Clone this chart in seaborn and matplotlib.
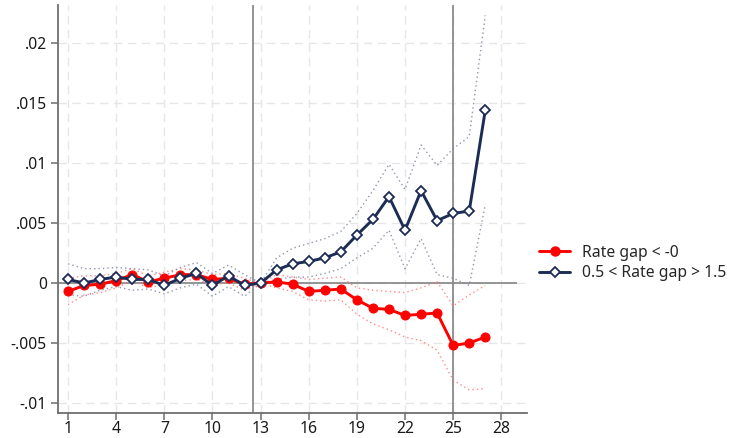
import matplotlib
matplotlib.use("Agg")
import matplotlib.pyplot as plt
import seaborn as sns
import pandas as pd
from matplotlib.lines import Line2D

# Event-time periods
periods = list(range(1, 28))

# Rate gap < -0: point estimates and confidence bounds
neg_coef = [-0.0007, -0.0002, -0.0001, 0.0002, 0.0007, 0.0001, 0.0004, 0.0007, 0.0007,
            0.0003, 0.0004, -0.0001, 0.0, 0.0001, -0.0001, -0.0007, -0.0006, -0.0005,
            -0.0014, -0.0021, -0.0022, -0.0027, -0.0026, -0.0025, -0.0052, -0.0050, -0.0045]
neg_hi = [0.0004, 0.0006, 0.0006, 0.0008, 0.0012, 0.0006, 0.0009, 0.0012, 0.0011,
          0.0007, 0.0008, 0.0004, 0.0, 0.0007, 0.0005, 0.0003, 0.0004, 0.0005,
          -0.0004, -0.0006, -0.0007, -0.0008, -0.0004, 0.0001, -0.0019, -0.0010, -0.0002]
neg_lo = [-0.0018, -0.0010, -0.0008, -0.0004, 0.0002, -0.0004, -0.0001, 0.0002, 0.0003,
          -0.0001, 0.0000, -0.0006, 0.0, -0.0004, -0.0007, -0.0014, -0.0015, -0.0014,
          -0.0026, -0.0034, -0.0039, -0.0045, -0.0048, -0.0056, -0.0081, -0.0089, -0.0088]

# 0.5 < Rate gap > 1.5: point estimates and confidence bounds
pos_coef = [0.0003, 0.0000, 0.0003, 0.0005, 0.0003, 0.0003, -0.0002, 0.0004, 0.0008,
            -0.0002, 0.0006, -0.0002, 0.0, 0.0011, 0.0016, 0.0018, 0.0021, 0.0026,
            0.0040, 0.0053, 0.0072, 0.0044, 0.0077, 0.0052, 0.0058, 0.0060, 0.0144]
pos_hi = [0.0016, 0.0012, 0.0012, 0.0013, 0.0012, 0.0011, 0.0006, 0.0013, 0.0017,
          0.0008, 0.0015, 0.0007, 0.0, 0.0021, 0.0029, 0.0033, 0.0037, 0.0043,
          0.0058, 0.0077, 0.0099, 0.0078, 0.0115, 0.0098, 0.0112, 0.0122, 0.0223]
pos_lo = [-0.0010, -0.0011, -0.0006, -0.0003, -0.0006, -0.0005, -0.0009, -0.0004, -0.0001,
          -0.0011, -0.0003, -0.0011, 0.0, 0.0003, 0.0005, 0.0005, 0.0008, 0.0012,
          0.0021, 0.0029, 0.0044, 0.0012, 0.0037, 0.0007, 0.0004, -0.0002, 0.0065]

x_ticks = [1, 4, 7, 10, 13, 16, 19, 22, 25, 28]
y_ticks = [-0.01, -0.005, 0, 0.005, 0.01, 0.015, 0.02]
y_labels = ["-.01", "-.005", "0", ".005", ".01", ".015", ".02"]
legend_labels = ["Rate gap < -0", "0.5 < Rate gap > 1.5"]

RED = "#ff0000"
NAVY = "#1c2d55"
FS = 11.3

sns.set_style("white")
plt.rcParams["font.family"] = ["Noto Sans", "DejaVu Sans"]

fig = plt.figure(figsize=(7.35, 4.38), dpi=100)
ax = fig.add_axes([58 / 735, 1 - 413 / 438, (527 - 58) / 735, (413 - 5) / 438])

df = pd.DataFrame({"period": periods,
                   "neg": neg_coef, "neg_hi": neg_hi, "neg_lo": neg_lo,
                   "pos": pos_coef, "pos_hi": pos_hi, "pos_lo": pos_lo})

# Reference lines
ax.axvline(12.5, color="#8c8c8c", lw=1.3, zorder=1)
ax.axvline(25, color="#8c8c8c", lw=1.3, zorder=1)
ax.hlines(0, 0.375, 29, color="#8c8c8c", lw=1.3, zorder=1)

# Confidence bounds
dot = (0, (1, 2.2))
for col in ["neg_hi", "neg_lo"]:
    sns.lineplot(data=df, x="period", y=col, ax=ax, color="#ff7575", lw=1.0,
                 linestyle=dot, alpha=0.85, zorder=2)
for col in ["pos_hi", "pos_lo"]:
    sns.lineplot(data=df, x="period", y=col, ax=ax, color="#838ba5", lw=1.0,
                 linestyle=dot, alpha=0.9, zorder=2)

# Point estimates
sns.lineplot(data=df, x="period", y="neg", ax=ax, color=RED, lw=2.1,
             marker="o", markersize=6.5, markeredgecolor=RED, zorder=4)
sns.lineplot(data=df, x="period", y="pos", ax=ax, color=NAVY, lw=2.1,
             marker="D", markersize=5.5, markerfacecolor="white",
             markeredgecolor=NAVY, markeredgewidth=1.3, zorder=5)

ax.set_xlim(0.375, 29.6)
ax.set_ylim(-0.01083, 0.02317)
ax.set_xticks(x_ticks)
ax.set_yticks(y_ticks)
ax.set_yticklabels(y_labels)
ax.set_xlabel("")
ax.set_ylabel("")

ax.grid(True, color="#e6e6e6", linestyle=(0, (6, 4)), lw=1.0)
ax.set_axisbelow(True)
for side in ["top", "right"]:
    ax.spines[side].set_visible(False)
for side in ["left", "bottom"]:
    ax.spines[side].set_color("#6e6e6e")
    ax.spines[side].set_linewidth(1.3)
ax.tick_params(axis="both", which="major", direction="out", length=5, width=1.1,
               color="#6e6e6e", labelsize=FS, labelcolor="#1a1a1a", pad=3,
               left=True, bottom=True)
ax.tick_params(axis="x", pad=1.0)

handles = [
    Line2D([], [], color=RED, lw=2.1, marker="o", markersize=6.5, markeredgecolor=RED),
    Line2D([], [], color=NAVY, lw=2.1, marker="D", markersize=5.5,
           markerfacecolor="white", markeredgecolor=NAVY, markeredgewidth=1.3),
]
fig.legend(handles, legend_labels, loc="center left",
           bbox_to_anchor=(539 / 735, 1 - 263 / 438), frameon=False,
           fontsize=FS, handlelength=2.0, handletextpad=0.75, labelspacing=0.3,
           borderaxespad=0, borderpad=0)

fig.savefig("out.png", dpi=100)
